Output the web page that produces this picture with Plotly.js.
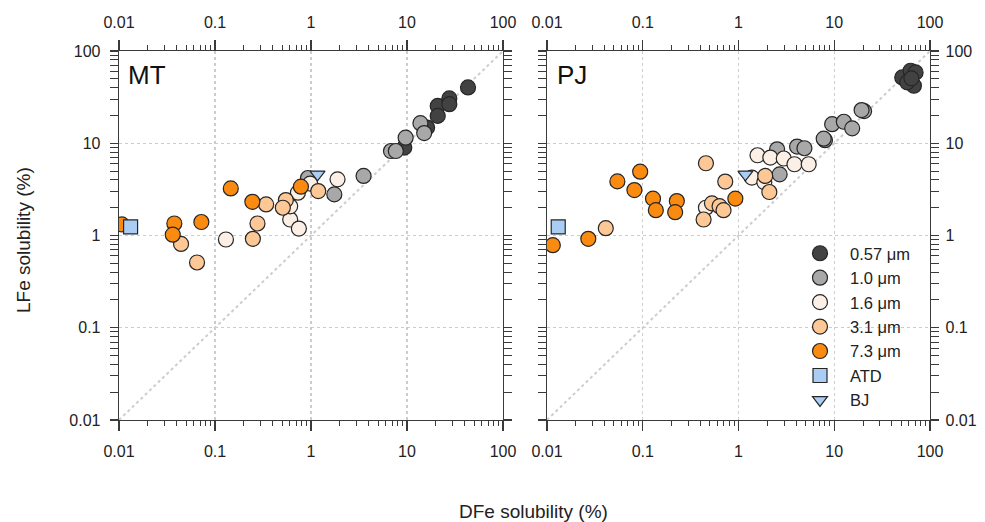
<!DOCTYPE html>
<html>
<head>
<meta charset="utf-8">
<script src="https://cdn.plot.ly/plotly-3.0.1.min.js"></script>
<style>html,body{margin:0;padding:0;background:#fff}#chart{width:985px;height:522px}</style>
</head>
<body>
<div id="chart"></div>
<script>
// ---- data (DFe solubility x, LFe solubility y, %) ----
var groupNames = ['0.57 \u03bcm', '1.0 \u03bcm', '1.6 \u03bcm', '3.1 \u03bcm', '7.3 \u03bcm', 'ATD', 'BJ'];
var tickVals = [0.01, 0.1, 1, 10, 100];
var tickText = ['0.01', '0.1', '1', '10', '100'];
var panelLabels = ['MT', 'PJ'];
var oneToOne = [0.01, 100];

// MT panel
var mt057_x = [9.37, 16.2, 20.9, 20.9, 27.6, 27.6, 43.2];
var mt057_y = [8.97, 14.8, 25.4, 19.8, 30.6, 26.5, 40.3];
var mt10_x = [0.93, 1.75, 3.53, 6.81, 7.65, 9.68, 13.8, 15.1];
var mt10_y = [4.2, 2.79, 4.42, 8.24, 8.24, 11.5, 16.5, 12.9];
var mt16_x = [0.130, 0.607, 0.748, 0.731, 1.89, 0.98, 0.607];
var mt16_y = [0.905, 1.49, 1.19, 2.91, 4.06, 3.65, 2.07];
var mt31_x = [0.0443, 0.065, 0.341, 0.277, 0.248, 0.547, 0.509, 1.19];
var mt31_y = [0.81, 0.51, 2.17, 1.35, 0.92, 2.42, 2.0, 3.03];
var mt73_x = [0.0107, 0.0377, 0.0363, 0.0721, 0.146, 0.245, 0.785];
var mt73_y = [1.32, 1.35, 1.02, 1.40, 3.24, 2.32, 3.38];
var mtATD_x = [0.0132];
var mtATD_y = [1.24];
var mtBJ_x = [1.17];
var mtBJ_y = [4.6];

// PJ panel
var pj057_x = [51.3, 62.7, 70.7, 67.9, 57.8, 64.0];
var pj057_y = [51.7, 61.1, 58.6, 42.0, 45.7, 50.5];
var pj10_x = [2.53, 2.69, 4.09, 4.88, 8.0, 7.76, 9.5, 12.6, 15.4, 20.5, 19.3];
var pj10_y = [8.6, 4.6, 9.2, 8.83, 10.8, 11.2, 16.1, 17.1, 14.5, 22.3, 22.9];
var pj16_x = [1.38, 1.86, 1.58, 2.15, 2.97, 3.84, 5.41, 0.457];
var pj16_y = [4.24, 3.79, 7.41, 7.0, 6.83, 5.92, 5.92, 2.0];
var pj31_x = [0.0411, 0.457, 0.727, 0.528, 0.634, 0.698, 0.432, 1.90, 2.10];
var pj31_y = [1.20, 6.07, 3.84, 2.23, 2.08, 1.88, 1.49, 4.42, 2.96];
var pj73_x = [0.0115, 0.0270, 0.0543, 0.094, 0.0818, 0.128, 0.137, 0.227, 0.218, 0.927];
var pj73_y = [0.785, 0.92, 3.86, 4.92, 3.11, 2.51, 1.88, 2.36, 1.79, 2.51];
var pjATD_x = [0.0131];
var pjATD_y = [1.24];
var pjBJ_x = [1.18];
var pjBJ_y = [4.6];

// ---- styles ----
var fills = ['#424242', '#a8a8a8', '#fbefe6', '#fdc895', '#fb8b10', '#aacdf4', '#aacdf4'];
var symbols = ['circle', 'circle', 'circle', 'circle', 'circle', 'square', 'triangle-down'];
var sizes = [15, 15, 15, 15, 15, 14, 13];
var FONT = 'Liberation Sans, Arial, sans-serif';

var panels = [
  {xa: 'x', ya: 'y', sets: [[mt057_x, mt057_y], [mt10_x, mt10_y], [mt16_x, mt16_y], [mt31_x, mt31_y], [mt73_x, mt73_y], [mtATD_x, mtATD_y], [mtBJ_x, mtBJ_y]], legend: false},
  {xa: 'x2', ya: 'y2', sets: [[pj057_x, pj057_y], [pj10_x, pj10_y], [pj16_x, pj16_y], [pj31_x, pj31_y], [pj73_x, pj73_y], [pjATD_x, pjATD_y], [pjBJ_x, pjBJ_y]], legend: true}
];

var traces = [];
panels.forEach(function (p) {
  traces.push({
    type: 'scatter', mode: 'lines', x: oneToOne, y: oneToOne, xaxis: p.xa, yaxis: p.ya,
    line: {color: '#cdcdcd', width: 2, dash: 'dot'}, showlegend: false, hoverinfo: 'skip'
  });
});
panels.forEach(function (p) {
  p.sets.forEach(function (s, i) {
    traces.push({
      type: 'scatter', mode: 'markers', x: s[0], y: s[1], xaxis: p.xa, yaxis: p.ya,
      name: groupNames[i], legendgroup: 'g' + i, showlegend: p.legend,
      marker: {symbol: symbols[i], size: sizes[i], color: fills[i], line: {color: '#262626', width: 1.2}}
    });
  });
});

// minor tick values 2..9 per decade
var minorVals = [];
for (var d = -2; d < 2; d++) {
  for (var m = 2; m <= 9; m++) minorVals.push(m * Math.pow(10, d));
}

var W = 985, H = 522;
var dL = [119 / W, 503 / W], dR = [547 / W, 930 / W];
var dY = [(H - 420) / H, (H - 51) / H];

function xAxis(domain, anchor, extra) {
  var a = {
    type: 'log', range: [-2, 2], domain: domain, anchor: anchor,
    showline: true, linecolor: '#3a3a3a', linewidth: 1.3,
    ticks: 'outside', ticklen: 10, tickwidth: 1.2, tickcolor: '#3a3a3a',
    tickmode: 'array', tickvals: tickVals, ticktext: tickText, ticklabelstandoff: 6,
    tickfont: {family: FONT, size: 16, color: '#222'},
    minor: {ticks: 'outside', ticklen: 5, tickwidth: 1, tickcolor: '#3a3a3a', tickmode: 'array', tickvals: minorVals, showgrid: false},
    showgrid: true, gridcolor: '#cccccc', griddash: 'dot', gridwidth: 1.2,
    zeroline: false, fixedrange: true
  };
  for (var k in extra) a[k] = extra[k];
  return a;
}
function yAxis(domain, anchor, extra) {
  var a = {
    type: 'log', range: [-2, 2], domain: domain, anchor: anchor,
    showline: true, linecolor: '#3a3a3a', linewidth: 1.3, mirror: 'allticks',
    ticks: 'outside', ticklen: 8, tickwidth: 1.2, tickcolor: '#3a3a3a',
    tickmode: 'array', tickvals: tickVals, ticktext: tickText,
    tickfont: {family: FONT, size: 16, color: '#222'},
    minor: {ticks: 'outside', ticklen: 4, tickwidth: 1, tickcolor: '#3a3a3a', tickmode: 'array', tickvals: minorVals, showgrid: false},
    showgrid: true, gridcolor: '#cccccc', griddash: 'dot', gridwidth: 1.2,
    zeroline: false, fixedrange: true
  };
  for (var k in extra) a[k] = extra[k];
  return a;
}

var layout = {
  width: W, height: H,
  margin: {l: 0, r: 0, t: 0, b: 0},
  paper_bgcolor: '#fff', plot_bgcolor: '#fff',
  font: {family: FONT, size: 16, color: '#222'},
  showlegend: true,
  legend: {
    x: 790 / W, y: (H - 236) / H, xanchor: 'left', yanchor: 'top',
    bgcolor: 'rgba(0,0,0,0)', borderwidth: 0, itemwidth: 50,
    font: {family: FONT, size: 16.5, color: '#222'}, tracegroupgap: 0
  },
  xaxis: xAxis(dL, 'y', {side: 'bottom'}),
  yaxis: yAxis(dY, 'x', {side: 'left', ticklabelstandoff: 6}),
  xaxis2: xAxis(dR, 'y2', {side: 'bottom'}),
  yaxis2: yAxis(dY, 'x2', {side: 'right', ticklabelstandoff: 3}),
  xaxis3: xAxis(dL, 'y', {side: 'top', overlaying: 'x', showgrid: false, ticklabelstandoff: 5}),
  xaxis4: xAxis(dR, 'y2', {side: 'top', overlaying: 'x2', showgrid: false, ticklabelstandoff: 5}),
  annotations: [
    {text: panelLabels[0], xref: 'paper', yref: 'paper', x: 126 / W, y: (H - 75) / H, xanchor: 'left', yanchor: 'middle', showarrow: false, font: {family: FONT, size: 26, color: '#111'}},
    {text: panelLabels[1], xref: 'paper', yref: 'paper', x: 555 / W, y: (H - 75) / H, xanchor: 'left', yanchor: 'middle', showarrow: false, font: {family: FONT, size: 26, color: '#111'}},
    {text: 'LFe solubility (%)', xref: 'paper', yref: 'paper', x: 23 / W, y: (H - 240) / H, xanchor: 'center', yanchor: 'middle', textangle: -90, showarrow: false, font: {family: FONT, size: 19, color: '#222'}},
    {text: 'DFe solubility (%)', xref: 'paper', yref: 'paper', x: 533 / W, y: (H - 511) / H, xanchor: 'center', yanchor: 'middle', showarrow: false, font: {family: FONT, size: 19, color: '#222'}}
  ]
};

// invisible anchor traces so top axes are drawn
traces.push({type: 'scatter', mode: 'markers', x: [], y: [], xaxis: 'x3', yaxis: 'y', showlegend: false, hoverinfo: 'skip'});
traces.push({type: 'scatter', mode: 'markers', x: [], y: [], xaxis: 'x4', yaxis: 'y2', showlegend: false, hoverinfo: 'skip'});

Plotly.newPlot('chart', traces, layout, {staticPlot: true, displayModeBar: false});
</script>
</body>
</html>
